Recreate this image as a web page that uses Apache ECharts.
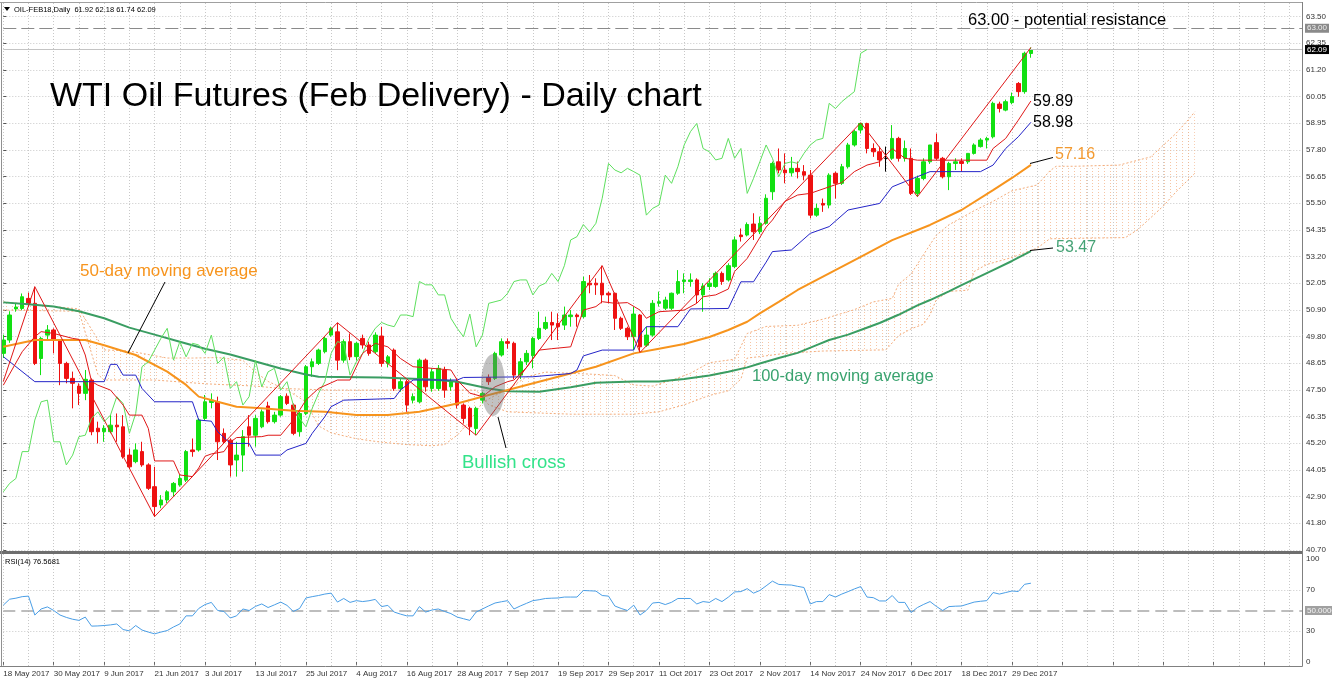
<!DOCTYPE html>
<html><head><meta charset="utf-8">
<script src="https://cdn.jsdelivr.net/npm/echarts@6/dist/echarts.min.js"></script>
<style>html,body{margin:0;padding:0;background:#fff}#c{width:1332px;height:683px}</style>
</head><body><div id="c"></div>
<script>
// ---------- tick labels ----------
const dateLabels = ['18 May 2017','30 May 2017','9 Jun 2017','21 Jun 2017','3 Jul 2017','13 Jul 2017','25 Jul 2017',
  '4 Aug 2017','16 Aug 2017','28 Aug 2017','7 Sep 2017','19 Sep 2017','29 Sep 2017','11 Oct 2017','23 Oct 2017',
  '2 Nov 2017','14 Nov 2017','24 Nov 2017','6 Dec 2017','18 Dec 2017','29 Dec 2017'];
const priceTickLabels = ['63.50','62.35','61.20','60.05','58.95','57.80','56.65','55.50','54.35','53.20','52.05',
  '50.90','49.80','48.65','47.50','46.35','45.20','44.05','42.90','41.80','40.70'];
const rsiTickLabels = [0, 30, 70, 100];

// ---------- daily OHLC (bar 0 = 18 May 2017, bar 163 = 4 Jan 2018) ----------
const opens = [49.1,49.67,51.0,51.02,51.45,51.24,48.88,49.88,50.10,49.67,
48.67,48.03,47.70,47.39,47.96,45.9,45.75,45.75,46.03,45.96,
44.75,44.47,44.9,44.33,43.4,42.62,42.83,43.18,43.47,43.68,
44.97,44.97,46.32,47.0,47.03,45.68,45.39,44.54,44.75,45.96,
45.6,45.96,46.85,46.18,46.46,47.27,46.89,45.75,46.53,48.53,
48.67,49.17,49.88,50.02,48.81,49.6,48.96,49.74,49.46,49.17,
49.84,48.67,49.24,47.6,47.89,47.1,47.03,48.81,47.6,47.6,
48.39,47.67,47.89,46.89,46.75,45.89,47.1,48.07,48.03,49.03,
49.6,49.53,48.17,48.74,49.0,49.74,50.17,50.42,50.38,50.31,
50.67,50.74,50.67,52.1,52.1,52.1,51.67,51.67,50.6,50.17,
49.81,50.74,49.45,49.88,51.24,51.03,51.03,51.67,52.17,52.17,
52.24,51.6,51.96,51.96,52.52,52.24,52.81,54.16,54.16,54.63,
54.3,54.66,56.01,57.29,56.94,56.82,57.01,56.87,56.72,55.01,
55.51,55.44,56.8,56.37,57.08,58.01,58.65,58.93,57.86,57.72,
57.44,57.44,58.29,57.44,57.44,55.94,56.58,57.29,58.11,57.44,
56.65,57.22,57.3,57.29,57.65,57.94,58.22,58.36,59.76,59.5,
59.82,60.64,60.29,61.92];
const highs = [49.9,50.9,51.24,51.66,51.7,51.95,49.81,50.31,50.17,49.7,
48.74,48.32,47.82,48.39,48.03,46.18,46.03,46.46,46.53,46.46,
45.03,45.25,45.32,44.4,44.25,43.04,43.25,43.6,43.9,44.97,
45.46,46.32,47.32,47.39,47.25,45.89,45.46,45.32,45.82,46.46,
46.46,46.7,47.03,46.6,47.32,47.39,46.96,46.6,48.6,48.88,
49.3,49.81,50.24,50.41,49.7,49.95,49.6,49.9,49.6,50.0,
50.24,49.03,49.31,48.03,47.96,47.39,48.88,48.88,48.46,48.6,
48.53,48.03,48.03,46.96,46.82,46.82,47.46,48.2,49.17,49.74,
49.74,49.6,48.9,49.24,49.81,50.88,50.67,50.88,50.81,51.1,
50.95,50.81,52.38,52.45,52.31,52.85,51.74,51.7,50.67,50.24,
51.1,50.78,50.24,51.38,51.74,51.52,51.7,52.66,52.52,52.52,
52.31,52.1,52.31,52.6,52.6,52.95,54.1,54.44,54.7,55.09,
54.95,55.9,57.3,57.86,57.65,57.5,57.3,57.15,56.94,55.5,
55.72,56.8,56.87,57.2,58.1,58.65,58.96,58.96,58.08,57.94,
57.94,58.86,58.36,58.2,57.86,56.7,57.44,58.01,58.5,57.5,
57.29,57.44,57.44,57.65,58.08,58.3,58.36,59.86,59.86,59.95,
60.25,60.7,62.0,62.18];
const lows = [48.9,49.55,50.88,50.95,51.1,48.6,48.17,49.67,49.1,47.74,
47.82,46.75,46.89,47.1,45.6,45.25,45.32,45.68,45.32,44.6,
44.18,44.4,44.25,43.26,42.12,42.48,42.7,43.0,43.4,43.6,
44.68,44.9,46.25,46.75,44.54,45.25,43.83,43.83,44.04,45.11,
45.11,45.9,46.1,46.1,46.39,46.89,45.6,45.54,46.46,48.1,
48.6,49.1,49.81,48.38,48.7,48.81,48.8,49.3,49.0,49.1,
48.53,48.5,47.5,47.46,46.6,46.96,46.96,47.46,47.46,47.5,
47.2,47.5,46.75,46.1,45.6,45.6,46.96,47.75,47.96,48.96,
49.3,48.0,48.0,48.6,48.46,49.67,50.1,49.67,49.67,50.1,
50.24,50.24,50.6,51.67,51.6,51.24,51.24,50.1,50.1,49.67,
49.24,49.14,49.38,49.81,51.1,50.95,50.95,51.6,51.67,51.95,
51.24,50.88,51.81,51.9,52.03,52.17,52.74,53.88,54.1,53.95,
54.2,54.6,55.66,56.8,56.37,56.66,56.58,56.5,54.87,54.94,
55.15,55.3,55.72,56.3,57.0,57.94,58.5,57.65,57.5,57.08,
56.87,57.37,57.3,57.3,55.87,55.8,56.5,57.2,57.36,56.58,
56.08,56.94,56.87,57.2,57.6,57.9,57.86,58.29,59.4,59.45,
59.75,60.07,60.2,61.74];
const closes = [49.67,50.74,51.08,51.52,51.24,48.67,49.74,50.10,49.67,48.67,
48.03,47.82,47.39,47.99,45.75,45.75,45.9,46.03,45.96,44.68,
44.25,44.97,44.33,43.33,42.55,42.83,43.18,43.54,43.75,44.9,
44.9,46.25,47.03,47.1,45.32,45.32,44.33,44.75,45.54,45.6,
46.32,46.6,46.18,46.46,47.25,46.96,45.68,46.53,48.53,48.74,
49.24,49.74,50.17,48.81,49.6,48.95,49.53,49.46,49.1,49.88,
48.67,48.95,47.6,47.89,46.89,47.25,48.81,47.67,48.31,48.46,
47.53,47.89,46.89,46.32,45.96,46.75,47.39,47.89,49.1,49.6,
49.53,48.17,48.74,49.1,49.74,50.17,50.42,50.31,50.24,50.74,
50.74,50.67,52.17,52.03,52.03,51.6,51.6,50.6,50.17,49.81,
50.78,49.38,49.88,51.24,51.31,51.38,51.67,52.17,52.24,52.24,
51.6,51.98,52.1,52.52,52.17,52.85,53.95,54.09,54.61,54.3,
54.66,55.73,57.22,56.94,56.82,57.01,56.87,56.72,55.01,55.3,
55.44,56.72,56.37,57.08,58.01,58.58,58.93,57.86,57.72,57.37,
57.44,58.29,57.44,57.86,55.94,56.58,57.29,58.01,57.44,56.65,
57.22,57.29,57.22,57.65,58.01,58.22,58.29,59.79,59.57,59.86,
60.08,60.29,61.93,62.09];

// ---------- indicator lines: [bar index, value] ----------
const tenkan = [[0,47.74],[3,49.17],[5,49.81],[6,50.03],[8,49.95],[11,49.74],[12,49.7],[13,49.03],[14,47.9],[15,47.74],
[17,47.53],[19,46.89],[20,46.46],[22,46.46],[23,45.89],[24,44.5],[27,44.5],[28,43.9],[30,43.83],[31,44.2],[32,44.7],
[33,44.8],[35,44.9],[36,45.3],[37,45.5],[41,45.54],[42,45.6],[44,45.6],[46,46.25],[48,47.1],[50,47.6],[53,47.96],
[55,47.96],[57,49.1],[59,49.53],[61,49.38],[63,48.88],[65,48.53],[68,48.46],[71,48.39],[72,47.96],[74,47.4],[76,47.25],
[78,47.67],[80,47.89],[81,47.96],[83,48.5],[85,49.24],[87,49.3],[90,49.38],[92,50.95],[94,51.1],[95,51.31],[97,51.24],
[99,51.27],[101,50.95],[102,50.6],[104,50.88],[108,50.95],[110,51.24],[111,51.52],[113,51.6],[115,51.85],[116,52.6],
[118,53.16],[121,54.5],[122,54.8],[124,55.6],[126,55.87],[128,55.94],[131,56.22],[133,56.4],[135,56.87],[137,57.15],
[139,57.29],[141,57.86],[143,57.44],[145,57.36],[156,57.36],[157,57.86],[159,58.29],[161,59.07],[163,59.89]];
const kijun = [[0,48.96],[5,47.89],[16,47.89],[17,48.63],[18,48.63],[19,48.17],[21,48.17],[22,47.6],[24,47.03],[30,47.03],
[31,46.25],[33,46.2],[34,45.75],[36,45.25],[39,45.25],[40,44.75],[44,44.75],[45,44.97],[48,45.25],[49,45.68],[51,46.39],
[52,46.82],[54,47.1],[62,47.17],[63,47.53],[65,47.96],[72,47.96],[73,48.07],[84,48.1],[90,48.24],[91,48.39],[92,48.99],
[95,49.24],[100,49.24],[101,49.9],[102,50.24],[107,50.24],[109,51.0],[115,51.02],[117,52.16],[119,52.16],[121,53.0],
[122,53.45],[125,53.52],[128,54.23],[131,54.52],[134,55.23],[139,55.51],[141,56.22],[143,56.44],[147,56.87],[155,56.87],
[157,57.15],[159,57.86],[161,58.36],[163,58.98]];
const zigzag = [[0,47.9],[5,51.95],[24,42.12],[53,50.41],[75,45.6],[95,52.85],[101,49.14],[136,58.96],[145,55.8],[163,62.18]];
const ma50 = [[0,49.38],[5,49.67],[13,49.67],[16,49.45],[21,49.03],[26,48.32],[29,47.75],[31,47.25],[34,47.03],[37,46.82],
[41,46.75],[46,46.65],[51,46.6],[56,46.46],[61,46.46],[66,46.6],[72,46.96],[77,47.32],[83,47.75],[88,48.1],[94,48.53],
[100,49.1],[104,49.3],[108,49.5],[112,49.8],[115,50.1],[118,50.45],[120,50.81],[123,51.3],[126,51.81],[131,52.52],
[136,53.23],[141,53.94],[147,54.59],[152,55.23],[157,56.08],[160,56.6],[163,57.16]];
const ma100 = [[0,51.28],[4,51.2],[8,51.1],[12,50.9],[16,50.6],[20,50.2],[24,49.9],[28,49.6],[32,49.3],[36,49.05],
[40,48.75],[44,48.45],[48,48.2],[50,48.1],[60,48.07],[68,47.98],[72,47.89],[77,47.6],[80,47.48],[85,47.46],[90,47.65],
[94,47.84],[100,47.9],[104,47.9],[108,48.0],[112,48.15],[115,48.31],[118,48.5],[120,48.67],[123,48.9],[126,49.12],
[129,49.45],[131,49.67],[134,49.9],[136,50.1],[139,50.4],[142,50.75],[145,51.15],[147,51.38],[150,51.75],[152,52.02],
[155,52.4],[157,52.66],[160,53.05],[163,53.47]];
const spanA = [[0,51.3],[4,51.2],[8,51.1],[12,51.0],[16,49.25],[20,49.2],[24,49.0],[26,48.9],[30,48.9],[34,48.92],
[38,48.8],[40,48.3],[42,47.9],[45,47.53],[48,47.03],[50,46.0],[52,45.7],[56,45.45],[60,45.3],[64,45.2],[68,45.15],
[70,45.2],[72,45.6],[74,46.2],[76,47.0],[78,47.3],[80,47.55],[83,48.1],[86,48.3],[90,48.25],[94,48.2],[97,48.15],
[100,47.75],[103,47.7],[106,47.95],[109,48.25],[112,48.7],[116,48.85],[118,49.95],[121,50.25],[126,50.3],[130,50.56],
[135,50.97],[138,51.3],[141,51.45],[142,52.05],[144,52.5],[147,53.75],[148,54.15],[150,54.6],[152,54.9],[154,55.2],
[157,55.6],[160,56.05],[164,56.3],[166,56.9],[167,57.1],[170,57.1],[177,57.15],[182,57.5],[184,58.0],[186,58.5],
[188,59.1],[189,59.43]];
const spanB = [[0,50.95],[12,50.9],[15,48.2],[16,47.96],[24,47.96],[32,47.8],[40,47.7],[44,47.6],[52,47.53],[60,47.53],
[70,47.53],[75,47.53],[77,46.9],[80,46.6],[90,46.5],[100,46.5],[104,46.6],[108,46.9],[112,47.3],[115,47.5],[117,48.0],
[118,48.9],[120,48.96],[124,49.1],[130,49.2],[140,49.25],[142,49.85],[144,50.15],[146,50.35],[147,50.75],[148,51.4],
[150,51.75],[153,51.8],[154,52.6],[156,52.9],[160,53.2],[164,53.6],[166,54.0],[178,54.05],[180,54.4],[184,55.4],
[186,56.0],[189,56.8]];
const rsi = [55.2,61,62,63.5,64,45.6,51.5,53.5,50,45.6,
43.3,41.5,40.4,43.6,34.8,35,35.4,36,36.9,31.5,
30.2,35.4,31,29,27.3,29,30.5,34,36.9,44.8,
44.8,52,55.8,57.9,50,49.1,42.7,44.8,51.5,50,
54,56.4,52.9,55.5,58.2,55,49.1,52,62.2,63.5,
64.6,66,66.9,58.2,61.7,57.9,59.6,58.7,59.5,60.8,
53.8,55,48.5,46.5,44.8,44.8,53.8,48.5,50.5,51.5,
49.1,47,43.6,42,40.4,48.5,51.5,54.5,57.3,58.5,
59.6,51.5,54.4,57,59.6,60.5,61.7,62,62.2,63.1,
63.1,63.1,69.5,69.2,68.9,64.6,64,54.4,52,50,
55.2,45.6,50,57.3,57.9,55.8,58,61.7,61.7,61.7,
56.4,58.7,57.9,61.7,58.7,63,68.1,68.4,71.3,66.9,
69.5,74,78.6,75.4,75,74.8,73.5,72.4,56.4,58.7,
58.7,65.5,63.1,66,68.4,71,73.3,63.1,62.5,59.3,
59.3,64.6,57.9,57.9,48,52.9,56,58.7,54,50,
53.8,54.2,54.4,56.3,58.2,59,59.6,67.5,66,67.5,
69,68.5,75.5,76.57];

// ---------- layout / style ----------
const SLOTS = 207;
const FONT = '"Liberation Sans", Arial, sans-serif';
const UP = '#12e012', DOWN = '#ee1111';
const slots = Array.from({length: SLOTS}, (_, i) => String(i));
const chikou = closes.slice(26).map((v, i) => [i, v]);
const candleData = opens.map((o, i) => {
  const item = {value: [o, closes[i], lows[i], highs[i]]};
  if (o === closes[i]) item.itemStyle = {color: '#000', color0: '#000', borderColor: '#000', borderColor0: '#000'};
  return item;
});
const pat = document.createElement('canvas');
pat.width = 6; pat.height = 3;
const pctx = pat.getContext('2d');
pctx.fillStyle = '#f4b78e'; pctx.fillRect(0, 0, 1, 1);

const gridL = 3.3, gridR = 30;
const dotted = {color: '#c8c8c8', type: [1, 2], width: 1};
const line = (name, data, color, width, z, type) => ({
  type: 'line', name, data, xAxisIndex: 0, yAxisIndex: 0, showSymbol: false, symbol: 'none',
  lineStyle: {color, width, type: type || 'solid'}, z, silent: true, clip: false, animation: false
});

const chart = echarts.init(document.getElementById('c'), null, {renderer: 'canvas'});
chart.setOption({
  animation: false,
  backgroundColor: '#fff',
  grid: [
    {left: gridL, right: gridR, top: 3, height: 548},
    {left: gridL, right: gridR, top: 16.57, height: 533.23},
    {left: gridL, right: gridR, top: 554, height: 112},
    {left: gridL, right: gridR, top: 559.1, height: 102.75}
  ],
  xAxis: [
    {type: 'category', gridIndex: 0, data: slots, boundaryGap: false,
     axisLine: {show: false}, axisTick: {show: false}, axisLabel: {show: false},
     splitLine: {show: true, interval: 3, lineStyle: dotted}},
    {type: 'value', gridIndex: 1, show: false, min: 0, max: 1},
    {type: 'category', gridIndex: 2, data: slots, boundaryGap: false,
     axisLine: {show: false},
     axisTick: {show: true, interval: 7, length: 3, lineStyle: {color: '#666'}},
     axisLabel: {show: true, interval: 7, showMinLabel: true, hideOverlap: false, align: 'left', margin: 4,
       fontSize: 8, fontFamily: FONT, color: '#333',
       formatter: (v, idx) => (idx % 8 === 0 && dateLabels[idx / 8]) ? dateLabels[idx / 8] : ''},
     splitLine: {show: true, interval: 3, lineStyle: dotted}},
    {type: 'value', gridIndex: 3, show: false, min: 0, max: 1}
  ],
  yAxis: [
    {type: 'value', gridIndex: 0, min: 40.65, max: 64.08, show: false},
    {type: 'value', gridIndex: 1, min: 0, max: 20, interval: 1, inverse: true, position: 'right',
     axisLine: {show: false}, axisTick: {show: true, length: 3, lineStyle: {color: '#555'}},
     axisLabel: {fontSize: 8, fontFamily: FONT, color: '#333', margin: 4, formatter: v => priceTickLabels[v] || ''},
     splitLine: {show: true, lineStyle: dotted}},
    {type: 'value', gridIndex: 2, min: -4, max: 105, show: false},
    {type: 'value', gridIndex: 3, min: 0, max: 100, interval: 10, position: 'right',
     axisLine: {show: false}, axisTick: {show: false}, splitLine: {show: false},
     axisLabel: {fontSize: 8, fontFamily: FONT, color: '#333', margin: 4,
       formatter: v => rsiTickLabels.includes(v) ? String(v) : ''}}
  ],
  series: [
    {type: 'custom', xAxisIndex: 0, yAxisIndex: 0, z: 1, silent: true, data: [[0, 50]],
     renderItem: (params, api) => {
       const pts = spanA.map(p => api.coord(p)).concat(spanB.slice().reverse().map(p => api.coord(p)));
       return {type: 'polygon', shape: {points: pts}, style: {fill: {image: pat, repeat: 'repeat'}, opacity: 0.8}};
     }},
    line('spanA', spanA, '#f4ad7c', 1, 2, [2, 2]),
    line('spanB', spanB, '#f4ad7c', 1, 2, [2, 2]),
    {type: 'candlestick', xAxisIndex: 0, yAxisIndex: 0, data: candleData, barWidth: 4, z: 3, clip: false, silent: true,
     itemStyle: {color: UP, color0: DOWN, borderColor: UP, borderColor0: DOWN, borderWidth: 1},
     markLine: {silent: true, symbol: ['none', 'none'], animation: false,
       data: [
         {yAxis: 63.00, lineStyle: {color: '#8a8a8a', type: [13, 5], width: 1},
          label: {show: true, position: 'end', distance: 3, formatter: '63.00', fontSize: 8, fontFamily: FONT,
                  color: '#f0f0f0', backgroundColor: '#8a8a8a', padding: [1, 2, 0, 2]}},
         {yAxis: 62.09, lineStyle: {color: '#c4c4c4', type: 'solid', width: 1},
          label: {show: true, position: 'end', distance: 3, formatter: '62.09', fontSize: 8, fontFamily: FONT,
                  color: '#fff', backgroundColor: '#000', padding: [1, 2, 0, 2]}}
       ]}},
    line('ma100', ma100, '#3a9d62', 2, 4),
    line('ma50', ma50, '#f7941d', 2, 4),
    line('chikou', chikou, '#5ee05e', 1, 5),
    line('kijun', kijun, '#2424c8', 1, 5),
    line('tenkan', tenkan, '#e01818', 1, 5),
    line('zigzag', zigzag, '#e01818', 1, 5),
    {type: 'line', name: 'rsi', xAxisIndex: 2, yAxisIndex: 2, data: rsi, showSymbol: false, symbol: 'none',
     lineStyle: {color: '#4a9ee6', width: 1}, z: 5, silent: true, animation: false,
     markLine: {silent: true, symbol: ['none', 'none'], animation: false,
       data: [
         {yAxis: 70, lineStyle: dotted, label: {show: false}},
         {yAxis: 30, lineStyle: dotted, label: {show: false}},
         {yAxis: 50, lineStyle: {color: '#a8a8a8', type: [12, 6], width: 1.5},
          label: {show: true, position: 'end', distance: 3, formatter: '50.0000', fontSize: 8, fontFamily: FONT,
                  color: '#f4f4f4', backgroundColor: '#a0a0a0', padding: [1, 2, 0, 2]}}
       ]}},
    {type: 'line', xAxisIndex: 1, yAxisIndex: 1, data: [], silent: true},
    {type: 'line', xAxisIndex: 3, yAxisIndex: 3, data: [], silent: true}
  ],
  graphic: [
    {type: 'rect', z: 100, shape: {x: 0, y: 551, width: 1302, height: 3}, style: {fill: '#6e6e6e'}},
    {type: 'line', z: 100, shape: {x1: 1302.5, y1: 2, x2: 1302.5, y2: 666.5}, style: {stroke: '#808080', lineWidth: 1}},
    {type: 'line', z: 100, shape: {x1: 1.5, y1: 2, x2: 1.5, y2: 666.5}, style: {stroke: '#909090', lineWidth: 1}},
    {type: 'line', z: 100, shape: {x1: 0, y1: 2.5, x2: 1302, y2: 2.5}, style: {stroke: '#a0a0a0', lineWidth: 1}},
    {type: 'line', z: 100, shape: {x1: 0, y1: 666.5, x2: 1302.5, y2: 666.5}, style: {stroke: '#808080', lineWidth: 1}},
    {type: 'polygon', z: 100, shape: {points: [[4, 7], [10, 7], [7, 11]]}, style: {fill: '#000'}},
    {type: 'text', z: 100, x: 14, y: 9.5, style: {text: 'OIL-FEB18,Daily  61.92 62.18 61.74 62.09', fontSize: 7.5,
      fontFamily: FONT, fill: '#000', verticalAlign: 'middle'}},
    {type: 'text', z: 100, x: 5, y: 562, style: {text: 'RSI(14) 76.5681', fontSize: 7.5, fontFamily: FONT, fill: '#000',
      verticalAlign: 'middle'}},
    {type: 'text', z: 100, x: 50, y: 97, style: {text: 'WTI Oil Futures (Feb Delivery) - Daily chart', fontSize: 34,
      fontFamily: FONT, fill: '#000', verticalAlign: 'middle'}},
    {type: 'text', z: 100, x: 968, y: 20, style: {text: '63.00 - potential resistance', fontSize: 16.5,
      fontFamily: FONT, fill: '#000', verticalAlign: 'middle'}},
    {type: 'text', z: 100, x: 1033, y: 101.5, style: {text: '59.89', fontSize: 16, fontFamily: FONT, fill: '#000', verticalAlign: 'middle'}},
    {type: 'text', z: 100, x: 1033, y: 123, style: {text: '58.98', fontSize: 16, fontFamily: FONT, fill: '#000', verticalAlign: 'middle'}},
    {type: 'text', z: 100, x: 1055, y: 155, style: {text: '57.16', fontSize: 16, fontFamily: FONT, fill: '#f39a30', verticalAlign: 'middle'}},
    {type: 'text', z: 100, x: 1056, y: 248, style: {text: '53.47', fontSize: 16, fontFamily: FONT, fill: '#45a275', verticalAlign: 'middle'}},
    {type: 'line', z: 100, shape: {x1: 1030, y1: 163.5, x2: 1053, y2: 157.5}, style: {stroke: '#000', lineWidth: 1}},
    {type: 'line', z: 100, shape: {x1: 1030, y1: 250.5, x2: 1053, y2: 248}, style: {stroke: '#000', lineWidth: 1}},
    {type: 'text', z: 100, x: 80, y: 271, style: {text: '50-day moving average', fontSize: 17, fontFamily: FONT, fill: '#f7941d', verticalAlign: 'middle'}},
    {type: 'line', z: 100, shape: {x1: 165, y1: 282, x2: 128, y2: 353}, style: {stroke: '#000', lineWidth: 1}},
    {type: 'text', z: 100, x: 752, y: 376, style: {text: '100-day moving average', fontSize: 16.5, fontFamily: FONT, fill: '#3aa36f', verticalAlign: 'middle'}},
    {type: 'ellipse', z: 60, shape: {cx: 493, cy: 385, rx: 12, ry: 31}, style: {fill: 'rgba(110,110,110,0.42)'}},
    {type: 'line', z: 100, shape: {x1: 498, y1: 417, x2: 506, y2: 448}, style: {stroke: '#000', lineWidth: 1}},
    {type: 'text', z: 100, x: 462, y: 463, style: {text: 'Bullish cross', fontSize: 18.5, fontFamily: FONT, fill: '#33e38a', verticalAlign: 'middle'}}
  ]
});
</script></body></html>
